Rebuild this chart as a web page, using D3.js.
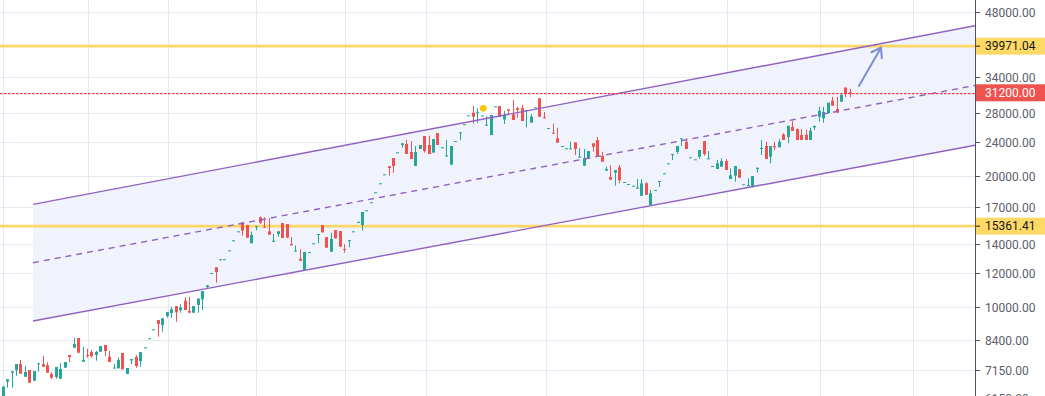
<!DOCTYPE html>
<html>
<head>
<meta charset="utf-8">
<script src="https://cdn.jsdelivr.net/npm/d3@7"></script>
<style>
html,body{margin:0;padding:0;background:#fff;overflow:hidden;}
svg{display:block;}
text{font-family:Roboto,"Liberation Sans",sans-serif;}
</style>
</head>
<body>
<svg id="chart" width="1045" height="396"></svg>
<script>
// ---------- DATA ----------
const opens = [6150,6721,7050,7152,7384,6902,7152,6757,7372,7384,7332,7002,6891,6829,7240,7746,8053,8477,7474,7746,
7870,7746,7883,8168,7676,7208,7218,7828,7002,7530,7664,7502,8050,8440,8860,9328,9084,9528,9682,10048,
9821,10336,9785,9697,10102,10411,11116,11950,12345,12850,12870,13480,14220,14910,15678,15454,14022,15275,16101,15316,
14944,14134,14732,15619,15537,13970,13424,12921,12167,13360,13990,14654,15454,14491,13409,15048,14968,13603,14200,14910,
15690,15454,16680,17400,18350,19250,20190,21111,22062,22700,23640,23764,22776,21143,23142,24797,23640,22705,25197,23320,
22236,21290,24110,25197,26350,27630,28065,27976,27630,26193,24930,29000,29082,27085,28578,27820,28747,28747,28420,26613,
28860,30298,27383,25840,25238,24498,23480,23200,23200,23982,22142,21178,22029,23854,24276,22297,20622,19947,20405,20999,
19390,19190,19010,18790,18050,19287,17181,18580,19490,20300,21410,22418,22776,24405,24057,22110,21880,22213,24147,21990,
21110,20809,21073,21703,19732,20082,20776,19150,18999,18941,20809,23142,23514,22213,23514,23356,25020,24669,26033,25737,
24930,24970,24276,25954,27470,27240,27976,29913,28623,29757,32070,31302];
const highs = [6570,6815,7110,7384,7542,7305,7152,7114,7411,7704,7451,7076,7267,7411,7462,7746,8477,8477,8094,8009,
7954,7912,8125,8168,7912,7384,7651,7828,7228,7582,7746,7870,8069,8468,8878,9328,9413,9733,10012,10048,
10141,10525,10558,10048,10455,10882,11214,11975,12345,12900,12890,13510,14250,14944,15678,15454,14913,15357,16151,16101,
16039,14732,14944,15619,15537,14491,13873,13581,13388,13388,14022,14732,15454,14491,14834,15048,14968,13956,14260,14944,
15727,16558,16710,17436,18387,19287,20231,21111,22062,22741,23854,24276,24147,23514,23640,24797,24835,24405,25197,23356,
24276,23514,24147,25291,26388,27669,29082,28747,27669,27590,27726,29036,29082,28333,28578,30025,28970,29264,28472,27870,
28900,30298,28178,25872,26472,25913,23514,23230,24060,23982,23268,23142,22897,23854,24669,22812,21073,21225,20699,21250,
19420,19216,19044,19732,19700,19390,18612,18612,19524,20340,21450,22535,23514,24498,24498,22142,21910,23019,24147,22897,
21143,21829,22029,21945,20877,21143,20776,19185,19810,20049,20953,24276,24057,23514,24057,24405,25157,26172,26855,25830,
25737,25601,25913,26172,28970,28970,29596,30534,30534,30881,32070,31870];
const lows = [6050,6511,6511,6939,7013,6902,6686,6757,7088,7278,7050,6817,6829,6829,7240,7462,8053,7841,7474,7635,
7635,7514,7883,7704,7462,7208,7218,7178,7002,7384,7240,7267,8050,8440,8860,8536,8765,9444,9444,9244,
9697,9837,9697,9697,9697,9837,10998,11950,11373,12830,12870,13480,14220,14910,14600,14445,14022,15024,15537,15235,
14678,14134,14520,14422,14445,13873,13424,12784,12167,13360,13990,14022,14865,13698,13409,14399,13772,13338,13727,14910,
15620,14992,16680,17400,18350,19250,20190,20082,20405,22700,23306,22535,21945,21143,23142,22705,22535,22705,23640,23320,
22200,21290,24110,24276,26350,27630,26472,26613,27630,26193,24930,29000,27470,26436,27870,26998,27330,26855,25954,26613,
28860,27470,27238,25840,25105,23932,23480,23200,23200,22418,22142,21178,22029,22812,22213,21633,20622,19659,19044,19287,
19390,19190,19010,18790,18050,18148,17181,18580,18920,20300,21410,21829,22535,23514,23142,22110,21880,21945,22335,21990,
21110,20809,21073,20699,19732,19451,19873,19150,18999,18850,20405,22418,21945,21450,23019,23356,24276,23854,25466,24276,
24276,24276,24276,25601,26755,26613,27976,29130,28065,29757,30481,30481];
const closes = [6545,6807,7103,7384,7013,7076,6686,7114,7411,7278,7050,6864,7267,7190,7462,7664,8212,7841,7542,7704,
7704,7870,8125,7912,7462,7246,7542,7178,7228,7582,7305,7870,8069,8468,8878,9132,9413,9733,9873,9718,
9980,9837,9697,10048,10455,10882,11214,11975,12038,12878,12890,13510,14250,14944,14992,14445,14654,15357,15645,15235,
14678,14210,14944,14422,14445,13873,13495,12784,13388,13388,14022,14732,14865,13698,14346,14399,13772,13531,14260,14944,
15727,16558,16710,17436,18387,19287,20231,20921,21143,22741,23854,22535,21945,22776,23640,22897,22535,24405,23640,23356,
22356,23514,24147,25291,26388,27669,27470,28132,27669,26332,27726,29036,27470,27726,28367,26998,28472,26855,28472,27470,
28900,27470,27238,25872,25105,23932,23514,23230,23230,23142,22213,22029,22897,23419,22213,21633,20809,19659,20699,19597,
19420,19216,19044,18850,19287,18148,18290,18612,19524,20340,21450,22535,23514,24498,23142,22142,21910,23019,22535,22029,
21143,21450,21703,20699,20126,21143,19873,19185,19101,20049,20953,23268,21945,23514,23356,24057,24276,26172,25466,24276,
24276,24276,25506,26172,28333,28178,29596,29130,28065,30881,31000,31200];

const yDomain = [6230, 51080];
const xDomain = [-0.6, 219.2];
const priceTicks = [48000, 34000, 28000, 24000, 20000, 17000, 14000, 12000, 10000, 8400, 7150, 6150];
const timeGrid = [0.15, 19.3, 37.3, 57.2, 77.2, 95.4, 122.4, 144.35, 163.3, 184.3, 205.15];
const hLines = [39971.04, 15361.41];
const lastPrice = 31200;
// parallel channel: [bar index, price] anchors
const channelX = [6.84, 219.2];
const channelUpper = [17240, 44535];
const channelMid = [12650, 32437];
const channelLower = [9280, 23616];
// arrow drawing: start and tip
const arrowX = [193.04, 198.0];
const arrowP = [32347, 39643];
// marker dot
const dotX = [108.35];
const dotP = [28730];

// ---------- DRAW ----------
const W = 1045, H = 396, plotR = 975;
const svg = d3.select("#chart");
const x = d3.scaleLinear().domain(xDomain).range([0, plotR]);
const y = d3.scaleLog().domain(yDomain).range([H, 0]);
const fmt = d3.format(".2f");

svg.append("rect").attr("width", W).attr("height", H).attr("fill", "#ffffff");
svg.append("defs").append("clipPath").attr("id", "plotclip")
  .append("rect").attr("x", 0).attr("y", 0).attr("width", plotR).attr("height", H);

const plot = svg.append("g").attr("clip-path", "url(#plotclip)");

// grid
const grid = plot.append("g");
grid.selectAll("line.v").data(timeGrid).enter().append("line")
  .attr("x1", d => Math.round(x(d)) + 0.5).attr("x2", d => Math.round(x(d)) + 0.5)
  .attr("y1", 0).attr("y2", H).attr("stroke", "#e2e9f0").attr("stroke-width", 1);
grid.selectAll("line.h").data(priceTicks).enter().append("line")
  .attr("x1", 0).attr("x2", plotR)
  .attr("y1", d => Math.round(y(d)) + 0.5).attr("y2", d => Math.round(y(d)) + 0.5)
  .attr("stroke", "#e2e9f0").attr("stroke-width", 1);

// channel fill
const upPts = channelX.map((d, i) => [x(d), y(channelUpper[i])]);
const loPts = channelX.map((d, i) => [x(d), y(channelLower[i])]);
const midPts = channelX.map((d, i) => [x(d), y(channelMid[i])]);
plot.append("path")
  .attr("d", d3.line()(upPts.concat(loPts.slice().reverse())) + "Z")
  .attr("fill", "#f0f3fc");

// horizontal yellow lines
plot.selectAll("line.hl").data(hLines).enter().append("line")
  .attr("x1", 0).attr("x2", plotR)
  .attr("y1", d => y(d)).attr("y2", d => y(d))
  .attr("stroke", "#fdd660").attr("stroke-width", 2.6).attr("opacity", 0.95);

// candles
const idx = d3.range(closes.length);
const cg = plot.append("g");
const colorOf = i => closes[i] >= opens[i] ? "#26a69a" : "#ef5350";
cg.selectAll("line.wick").data(idx).enter().append("line")
  .attr("x1", i => Math.round(x(i)) + 0.5).attr("x2", i => Math.round(x(i)) + 0.5)
  .attr("y1", i => y(highs[i])).attr("y2", i => y(lows[i]))
  .attr("stroke", colorOf).attr("stroke-width", 1);
cg.selectAll("rect.body").data(idx).enter().append("rect")
  .attr("x", i => Math.round(x(i)) - 1)
  .attr("width", 3)
  .attr("y", i => y(Math.max(opens[i], closes[i])))
  .attr("height", i => Math.max(1, y(Math.min(opens[i], closes[i])) - y(Math.max(opens[i], closes[i]))))
  .attr("fill", colorOf);

// channel lines
plot.append("path").attr("d", d3.line()(upPts)).attr("fill", "none")
  .attr("stroke", "#9061c2").attr("stroke-width", 1.4);
plot.append("path").attr("d", d3.line()(loPts)).attr("fill", "none")
  .attr("stroke", "#9061c2").attr("stroke-width", 1.4);
plot.append("path").attr("d", d3.line()(midPts)).attr("fill", "none")
  .attr("stroke", "#9061c2").attr("stroke-width", 1.4).attr("stroke-dasharray", "6,5");

// last price dotted line (drawn as short red dashes)
const lpY = Math.round(y(lastPrice));
plot.append("g").selectAll("rect.lp").data(d3.range(0, plotR, 4)).enter().append("rect")
  .attr("x", d => d).attr("y", lpY).attr("width", 2.5).attr("height", 1.2)
  .attr("fill", "#f23645");

// marker dot
plot.selectAll("circle.dot").data(dotX).enter().append("circle")
  .attr("cx", (d) => x(d)).attr("cy", (d, i) => y(dotP[i])).attr("r", 3.4)
  .attr("fill", "#f8c80c");

// arrow
const ax0 = x(arrowX[0]), ay0 = y(arrowP[0]), ax1 = x(arrowX[1]), ay1 = y(arrowP[1]);
const ang = Math.atan2(ay1 - ay0, ax1 - ax0);
const hl = 10.5, ha = Math.PI / 5.2;
const ag = plot.append("g").attr("stroke", "#7890d2").attr("stroke-width", 2)
  .attr("stroke-linecap", "round").attr("fill", "none");
ag.append("line").attr("x1", ax0).attr("y1", ay0).attr("x2", ax1).attr("y2", ay1);
ag.append("line").attr("x1", ax1).attr("y1", ay1)
  .attr("x2", ax1 - hl * Math.cos(ang - ha)).attr("y2", ay1 - hl * Math.sin(ang - ha));
ag.append("line").attr("x1", ax1).attr("y1", ay1)
  .attr("x2", ax1 - hl * Math.cos(ang + ha)).attr("y2", ay1 - hl * Math.sin(ang + ha));

// price axis
const axis = svg.append("g");
axis.append("line").attr("x1", plotR + 0.5).attr("x2", plotR + 0.5).attr("y1", 0).attr("y2", H)
  .attr("stroke", "#50535e").attr("stroke-width", 1);
const tk = axis.selectAll("g.tick").data(priceTicks).enter().append("g")
  .attr("transform", d => `translate(0,${Math.round(y(d)) + 0.5})`);
tk.append("line").attr("x1", plotR + 1).attr("x2", plotR + 5).attr("stroke", "#50535e");
tk.append("text").attr("x", 985).attr("dy", "0.35em").attr("font-size", 12)
  .attr("fill", "#5d606b").text(d => fmt(d));

// badges
const badges = hLines.map(v => ({v, bg: "#ffd966", fg: "#131722", tick: true}))
  .concat([{v: lastPrice, bg: "#ef5350", fg: "#ffffff", tick: false}]);
const bg = axis.selectAll("g.badge").data(badges).enter().append("g")
  .attr("transform", d => `translate(0,${y(d.v)})`);
bg.append("rect").attr("x", plotR + 1).attr("y", -8.5).attr("width", W - plotR - 1).attr("height", 17)
  .attr("fill", d => d.bg);
bg.filter(d => d.tick).append("line").attr("x1", plotR + 1).attr("x2", plotR + 5)
  .attr("stroke", "#131722");
bg.append("text").attr("x", 985).attr("dy", "0.35em").attr("font-size", 12)
  .attr("fill", d => d.fg).text(d => fmt(d.v));
</script>
</body>
</html>
